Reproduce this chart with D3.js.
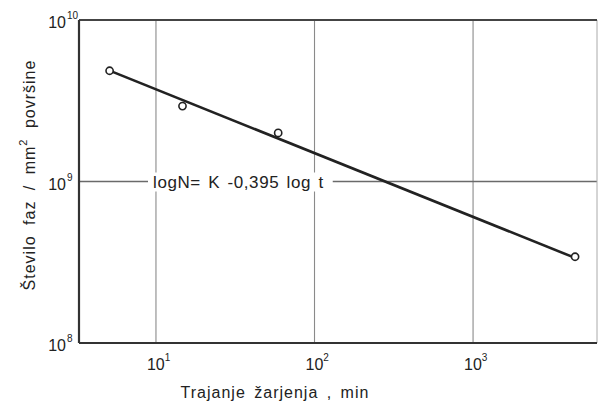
<!DOCTYPE html>
<html>
<head>
<meta charset="utf-8">
<script src="https://cdn.jsdelivr.net/npm/d3@7"></script>
<style>
  body { margin: 0; background: #fff; }
  text { font-family: "Liberation Sans", Arial, sans-serif; fill: #222; }
</style>
</head>
<body>
<div id="chart"></div>
<script>
// measured points (annealing time in min, number of phases per mm^2)
const times = [5.1, 14.7, 59, 4400];
const counts = [4.85e9, 2.93e9, 2.0e9, 3.42e8];
// fitted line: log N = K - 0.395 log t
const fitK = 9.966;
const fitSlope = -0.395;
const xTicks = [10, 100, 1000];
const yTicks = [1e8, 1e9, 1e10];
const xTickExp = ["1", "2", "3"];
const yTickExp = ["8", "9", "10"];

const W = 599, H = 403;
const margin = {top: 20, right: 2, bottom: 60, left: 79};
const width = W - margin.left - margin.right;
const height = H - margin.top - margin.bottom;

const svg = d3.select("#chart").append("svg")
    .attr("width", W)
    .attr("height", H);
const g = svg.append("g")
    .attr("transform", `translate(${margin.left},${margin.top})`);

const x = d3.scaleLog().domain([3.27, 6050]).range([0, width]);
const y = d3.scaleLog().domain([1e8, 1e10]).range([height, 0]);

// vertical grid
g.selectAll(".vgrid").data(xTicks).enter().append("line")
    .attr("class", "vgrid")
    .attr("x1", d => x(d)).attr("x2", d => x(d))
    .attr("y1", 0).attr("y2", height)
    .attr("stroke", "#8a8a8a").attr("stroke-width", 1.1);

// horizontal grid at 10^9
g.selectAll(".hgrid").data(yTicks.slice(1, 2)).enter().append("line")
    .attr("class", "hgrid")
    .attr("x1", 0).attr("x2", width)
    .attr("y1", d => y(d)).attr("y2", d => y(d))
    .attr("stroke", "#6a6a6a").attr("stroke-width", 1.6);

// frame
g.append("line").attr("x1", width).attr("x2", width).attr("y1", 0).attr("y2", height)
    .attr("stroke", "#aaa").attr("stroke-width", 1);
g.append("line").attr("x1", 0).attr("x2", width).attr("y1", 0).attr("y2", 0)
    .attr("stroke", "#444").attr("stroke-width", 2.2);
g.append("line").attr("x1", 0).attr("x2", width).attr("y1", height).attr("y2", height)
    .attr("stroke", "#333").attr("stroke-width", 2.2);
g.append("line").attr("x1", 0).attr("x2", 0).attr("y1", 0).attr("y2", height)
    .attr("stroke", "#333").attr("stroke-width", 2.2);

// equation label with white backing
const eq = g.append("text")
    .attr("x", 74)
    .attr("y", y(1e9) + 6)
    .attr("font-size", 17)
    .attr("letter-spacing", 0.6)
    .attr("word-spacing", 2)
    .text("logN= K  -0,395 log t");
const bb = eq.node().getBBox();
g.insert("rect", "text")
    .attr("x", bb.x - 5).attr("y", bb.y)
    .attr("width", bb.width + 14).attr("height", bb.height)
    .attr("fill", "#fff");

// fit line
const tRange = d3.extent(times);
g.append("line")
    .attr("x1", x(tRange[0])).attr("y1", y(Math.pow(10, fitK + fitSlope * Math.log10(tRange[0]))))
    .attr("x2", x(tRange[1])).attr("y2", y(Math.pow(10, fitK + fitSlope * Math.log10(tRange[1]))))
    .attr("stroke", "#222").attr("stroke-width", 2.6);

// points
const pts = times.map((t, i) => ({t: t, n: counts[i]}));
g.selectAll(".pt").data(pts).enter().append("circle")
    .attr("class", "pt")
    .attr("cx", d => x(d.t)).attr("cy", d => y(d.n))
    .attr("r", 3.6)
    .attr("fill", "#fff").attr("stroke", "#222").attr("stroke-width", 1.6);

// y tick labels: base "10" right-aligned, exponent after it
yTicks.forEach((d, i) => {
    g.append("text")
        .attr("x", -13).attr("y", y(d) + 8)
        .attr("text-anchor", "end")
        .attr("font-size", 16)
        .text("10");
    g.append("text")
        .attr("x", -12).attr("y", y(d) - 1)
        .attr("font-size", 10)
        .text(yTickExp[i]);
});

// x tick labels
xTicks.forEach((d, i) => {
    const t = g.append("text")
        .attr("x", x(d) - 9).attr("y", height + 27)
        .attr("font-size", 16);
    t.append("tspan").text("10");
    t.append("tspan").attr("dy", -9).attr("font-size", 10).text(xTickExp[i]);
});

// axis titles
svg.append("text")
    .attr("x", 275).attr("y", 398)
    .attr("text-anchor", "middle")
    .attr("font-size", 16)
    .attr("letter-spacing", 1)
    .attr("word-spacing", 3)
    .text("Trajanje žarjenja , min");

const yl = svg.append("text")
    .attr("transform", "translate(35,175) rotate(-90)")
    .attr("text-anchor", "middle")
    .attr("font-size", 16)
    .attr("letter-spacing", 1)
    .attr("word-spacing", 5);
yl.append("tspan").text("Število  faz / mm");
yl.append("tspan").attr("dy", -8).attr("font-size", 11).text("2");
yl.append("tspan").attr("dy", 8).text("  površine");
</script>
</body>
</html>
